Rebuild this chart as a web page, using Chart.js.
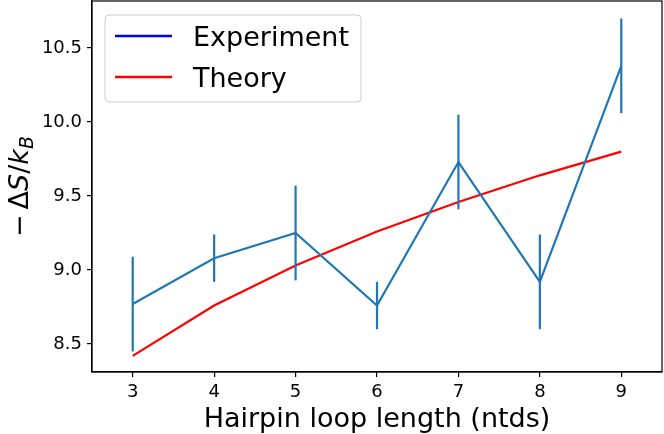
<!DOCTYPE html>
<html>
<head>
<meta charset="utf-8">
<script src="https://cdn.jsdelivr.net/npm/chart.js@4"></script>
<style>
  html, body { margin: 0; padding: 0; background: #fff; }
  #wrap { width: 664px; height: 434px; position: relative; }
</style>
</head>
<body>
<div id="wrap"><canvas id="hairpin_chart"></canvas></div>
<script>
// loop lengths (ntds)
const loop_lengths = [3, 4, 5, 6, 7, 8, 9];
// measured -dS/kB and error bar half widths
const experiment_values = [8.77, 9.08, 9.25, 8.76, 9.73, 8.92, 10.38];
const experiment_errors = [0.32, 0.16, 0.32, 0.16, 0.32, 0.32, 0.32];
// theory curve
const theory_values = [8.42, 8.76, 9.03, 9.26, 9.46, 9.64, 9.80];

const x_ticks = [3, 4, 5, 6, 7, 8, 9];
const y_ticks = [8.5, 9.0, 9.5, 10.0, 10.5];

const legend_labels = ["Experiment", "Theory"];
const legend_colors = ["#0000ff", "#ff0000"];

const FONT = "'DejaVu Sans', sans-serif";
const BLUE = "#1f77b4";

// error bars drawn through the scales
const errorBars = {
	id: "errorBars",
	afterDatasetsDraw(chart) {
		const ctx = chart.ctx;
		const xs = chart.scales.x, ys = chart.scales.y;
		ctx.save();
		ctx.strokeStyle = BLUE;
		ctx.lineWidth = 2.2;
		loop_lengths.forEach((l, i) => {
			const px = xs.getPixelForValue(l);
			ctx.beginPath();
			ctx.moveTo(px, ys.getPixelForValue(experiment_values[i] - experiment_errors[i]));
			ctx.lineTo(px, ys.getPixelForValue(experiment_values[i] + experiment_errors[i]));
			ctx.stroke();
		});
		ctx.restore();
	}
};

// frame, axis titles and legend box
const decorations = {
	id: "decorations",
	afterDraw(chart) {
		const ctx = chart.ctx;
		const a = chart.chartArea;
		ctx.save();
		ctx.strokeStyle = "#000";
		ctx.lineWidth = 1.2;
		ctx.strokeRect(a.left, a.top, a.right - a.left, a.bottom - a.top);

		// x title
		ctx.fillStyle = "#000";
		ctx.font = "27px " + FONT;
		ctx.textAlign = "center";
		ctx.textBaseline = "alphabetic";
		ctx.fillText("Hairpin loop length (ntds)", (a.left + a.right) / 2, 427);

		// y title  -ΔS/k_B
		const parts = [
			{t: "\u2212", f: "27px " + FONT, dy: 0, gap: 5},
			{t: "\u0394", f: "27px " + FONT, dy: 0},
			{t: "S", f: "italic 27px " + FONT, dy: 0},
			{t: "/", f: "27px " + FONT, dy: 0},
			{t: "k", f: "italic 27px " + FONT, dy: 0},
			{t: "B", f: "italic 19px " + FONT, dy: 5}
		];
		let total = 0;
		parts.forEach(p => { ctx.font = p.f; p.w = ctx.measureText(p.t).width + (p.gap || 0); total += p.w; });
		ctx.translate(28, (a.top + a.bottom) / 2);
		ctx.rotate(-Math.PI / 2);
		ctx.textAlign = "left";
		let cx = -total / 2;
		parts.forEach(p => {
			ctx.font = p.f;
			ctx.fillText(p.t, cx, p.dy);
			cx += p.w;
		});
		ctx.setTransform(1, 0, 0, 1, 0, 0);

		// legend
		const bx = 105, by = 15, bw = 256, bh = 87;
		ctx.beginPath();
		ctx.roundRect(bx, by, bw, bh, 4);
		ctx.fillStyle = "rgba(255,255,255,0.8)";
		ctx.fill();
		ctx.strokeStyle = "#cccccc";
		ctx.lineWidth = 1;
		ctx.stroke();
		ctx.font = "27px " + FONT;
		ctx.textAlign = "left";
		legend_labels.forEach((lab, i) => {
			const ly = 36 + i * 41;
			ctx.strokeStyle = legend_colors[i];
			ctx.lineWidth = 2.5;
			ctx.beginPath();
			ctx.moveTo(115, ly);
			ctx.lineTo(172, ly);
			ctx.stroke();
			ctx.fillStyle = "#000";
			ctx.fillText(lab, 193, ly + 10);
		});
		ctx.restore();
	}
};

new Chart(document.getElementById("hairpin_chart").getContext("2d"), {
	type: "line",
	data: {
		datasets: [
			{
				label: "Experiment",
				data: loop_lengths.map((l, i) => ({x: l, y: experiment_values[i]})),
				borderColor: BLUE,
				backgroundColor: BLUE,
				borderWidth: 2.2,
				pointRadius: 0,
				fill: false,
				tension: 0
			},
			{
				label: "Theory",
				data: loop_lengths.map((l, i) => ({x: l, y: theory_values[i]})),
				borderColor: "#ff0000",
				backgroundColor: "#ff0000",
				borderWidth: 2.2,
				pointRadius: 0,
				fill: false,
				tension: 0
			}
		]
	},
	options: {
		responsive: true,
		maintainAspectRatio: false,
		animation: false,
		layout: { padding: { left: 0, top: 1, right: 2, bottom: 0 } },
		plugins: { legend: { display: false }, tooltip: { enabled: false } },
		scales: {
			x: {
				type: "linear",
				min: 2.5,
				max: 9.5,
				afterBuildTicks: s => { s.ticks = x_ticks.map(v => ({value: v})); },
				afterFit: s => { s.height = 62; s.paddingLeft = 0; s.paddingRight = 0; },
				ticks: { color: "#000", font: { family: FONT, size: 18 }, padding: 5, maxRotation: 0,
					callback: v => String(v) },
				grid: { drawOnChartArea: false, drawTicks: true, tickLength: 5, color: "#000", lineWidth: 1.2 },
				border: { display: true, color: "#000", width: 1.2 }
			},
			y: {
				type: "linear",
				min: 8.311,
				max: 10.818,
				afterBuildTicks: s => { s.ticks = y_ticks.map(v => ({value: v})); },
				afterFit: s => { s.width = 92; s.paddingTop = 0; s.paddingBottom = 0; },
				ticks: { color: "#000", font: { family: FONT, size: 18 }, padding: 5,
					callback: v => v.toFixed(1) },
				grid: { drawOnChartArea: false, drawTicks: true, tickLength: 5, color: "#000", lineWidth: 1.2 },
				border: { display: true, color: "#000", width: 1.2 }
			}
		}
	},
	plugins: [errorBars, decorations]
});
</script>
</body>
</html>
